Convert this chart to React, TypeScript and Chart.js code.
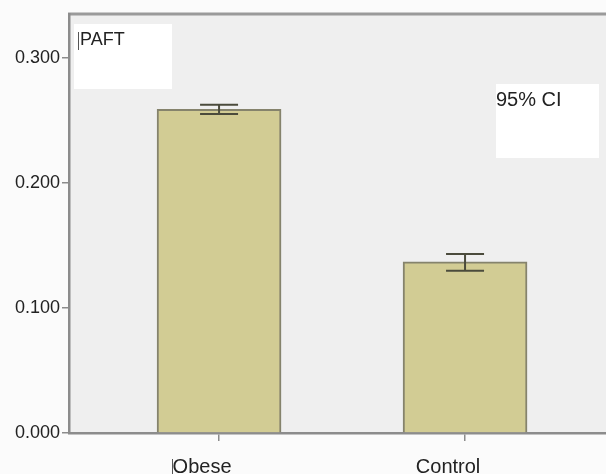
import React, { useEffect, useRef } from "react";
import { Chart, registerables } from "chart.js";

Chart.register(...registerables);

const categories: string[] = ["Obese", "Control"];
const categoryPositions: number[] = [1, 2];
const means: number[] = [0.259, 0.137];
const ciLow: number[] = [0.2552, 0.1299];
const ciHigh: number[] = [0.2626, 0.1432];
const yTicks: number[] = [0, 0.1, 0.2, 0.3];
const yMax = 0.3352;
const xMin = 0.39;
const xMax = 2.573;

const FONT = "'Liberation Sans', Arial, sans-serif";

const decorPlugin = {
  id: "decor",
  beforeDraw(chart: any) {
    const { ctx, chartArea } = chart;
    ctx.save();
    ctx.fillStyle = "#fbfbfb";
    ctx.fillRect(0, 0, chart.width, chart.height);
    ctx.fillStyle = "#efefef";
    ctx.fillRect(chartArea.left, chartArea.top, chartArea.right - chartArea.left, chartArea.bottom - chartArea.top);
    ctx.strokeStyle = "#9a9a9a";
    ctx.lineWidth = 3;
    ctx.beginPath();
    ctx.moveTo(chartArea.left - 1, chartArea.top);
    ctx.lineTo(chartArea.right, chartArea.top);
    ctx.stroke();
    ctx.fillStyle = "#ffffff";
    ctx.fillRect(chartArea.left + 5, chartArea.top + 10, 98, 65);
    ctx.fillRect(chartArea.left + 427, chartArea.top + 70, 103, 74);
    ctx.restore();
  },
  afterDraw(chart: any) {
    const { ctx, chartArea } = chart;
    ctx.save();
    ctx.fillStyle = "#222222";
    ctx.textBaseline = "middle";
    ctx.textAlign = "left";
    ctx.font = `18px ${FONT}`;
    ctx.fillText("PAFT", chartArea.left + 11, chartArea.top + 26);
    ctx.font = `20px ${FONT}`;
    ctx.fillText("95% CI", chartArea.left + 427, chartArea.top + 86);
    ctx.strokeStyle = "#555";
    ctx.lineWidth = 1;
    ctx.beginPath();
    ctx.moveTo(chartArea.left + 9.5, chartArea.top + 18);
    ctx.lineTo(chartArea.left + 9.5, chartArea.top + 36);
    ctx.moveTo(172.5, chartArea.bottom + 26);
    ctx.lineTo(172.5, chartArea.bottom + 41);
    ctx.stroke();
    ctx.restore();
  },
};

const errorBarPlugin = {
  id: "errorBars",
  afterDatasetsDraw(chart: any) {
    const { ctx } = chart;
    const xs = chart.scales.x;
    const ys = chart.scales.y;
    ctx.save();
    ctx.strokeStyle = "#4b4b3c";
    ctx.lineWidth = 2;
    categoryPositions.forEach((p, i) => {
      const x = xs.getPixelForValue(p);
      const yl = ys.getPixelForValue(ciLow[i]);
      const yh = ys.getPixelForValue(ciHigh[i]);
      const hw = 19;
      ctx.beginPath();
      ctx.moveTo(x, yl);
      ctx.lineTo(x, yh);
      ctx.moveTo(x - hw, yl);
      ctx.lineTo(x + hw, yl);
      ctx.moveTo(x - hw, yh);
      ctx.lineTo(x + hw, yh);
      ctx.stroke();
    });
    ctx.restore();
  },
};

export default function App() {
  const ref = useRef<HTMLCanvasElement | null>(null);

  useEffect(() => {
    if (!ref.current) return;
    const chart = new Chart(ref.current, {
      type: "bar",
      data: {
        datasets: [
          {
            data: categoryPositions.map((p, i) => ({ x: p, y: means[i] })),
            backgroundColor: "#d2cc94",
            borderColor: "#85836c",
            borderWidth: { top: 2, left: 2, right: 2, bottom: 0 },
            barThickness: 124,
          } as any,
        ],
      },
      options: {
        responsive: false,
        animation: false,
        devicePixelRatio: 1,
        layout: { padding: { top: 14, right: 0, bottom: 0, left: 0 } },
        plugins: { legend: { display: false }, tooltip: { enabled: false } },
        scales: {
          x: {
            type: "linear",
            min: xMin,
            max: xMax,
            offset: false,
            afterBuildTicks: (scale: any) => {
              scale.ticks = categoryPositions.map((v) => ({ value: v }));
            },
            afterFit: (scale: any) => {
              scale.height = 41;
            },
            ticks: {
              callback: (v: any) => {
                const idx = categoryPositions.indexOf(Number(v));
                return idx >= 0 ? categories[idx] : "";
              },
              font: { family: FONT, size: 20 },
              color: "#222222",
              padding: 14,
              labelOffset: -17,
              maxRotation: 0,
              autoSkip: false,
            },
            grid: {
              display: true,
              offset: false,
              drawOnChartArea: false,
              drawTicks: true,
              tickLength: 8,
              color: "#8c8c8c",
              lineWidth: 1.5,
            },
            border: { display: true, color: "#8c8c8c", width: 2.5 },
          } as any,
          y: {
            type: "linear",
            min: 0,
            max: yMax,
            afterBuildTicks: (scale: any) => {
              scale.ticks = yTicks.map((v) => ({ value: v }));
            },
            afterFit: (scale: any) => {
              scale.width = 69;
            },
            ticks: {
              callback: (v: any) => Number(v).toFixed(3),
              font: { family: FONT, size: 18 },
              color: "#222222",
              padding: 2,
            },
            grid: {
              display: true,
              drawOnChartArea: false,
              drawTicks: true,
              tickLength: 7,
              color: "#8c8c8c",
              lineWidth: 1.5,
            },
            border: { display: true, color: "#8c8c8c", width: 2.5 },
          },
        },
      },
      plugins: [decorPlugin, errorBarPlugin],
    });
    return () => chart.destroy();
  }, []);

  return (
    <div style={{ position: "absolute", left: 0, top: 0, width: 606, height: 474 }}>
      <canvas ref={ref} width={606} height={474} style={{ display: "block" }} />
    </div>
  );
}
